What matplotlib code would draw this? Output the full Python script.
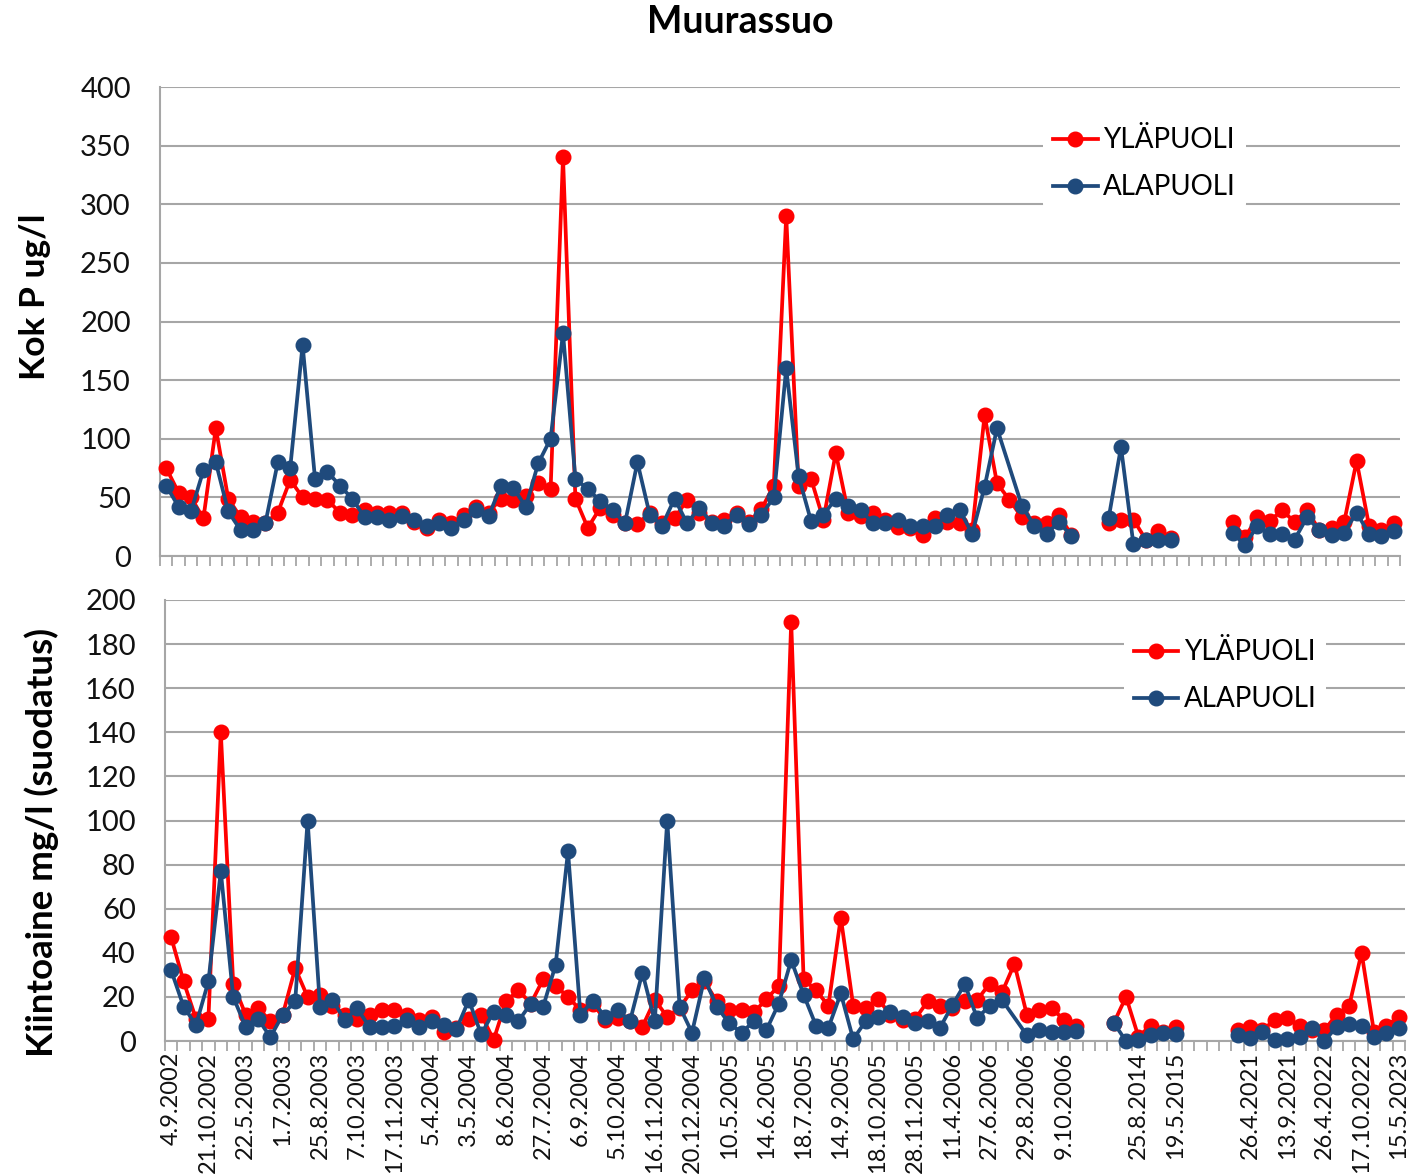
import numpy as np
import matplotlib
matplotlib.use("Agg")
import matplotlib.pyplot as plt
from matplotlib.ticker import FixedLocator, MultipleLocator

NA = "NA"  # not available: line connects across it
# None = empty row: line breaks (gap)

tick_labels = ["4.9.2002", "21.10.2002", "22.5.2003", "1.7.2003", "25.8.2003", "7.10.2003",
               "17.11.2003", "5.4.2004", "3.5.2004", "8.6.2004", "27.7.2004", "6.9.2004",
               "5.10.2004", "16.11.2004", "20.12.2004", "10.5.2005", "14.6.2005", "18.7.2005",
               "14.9.2005", "18.10.2005", "28.11.2005", "11.4.2006", "27.6.2006", "29.8.2006",
               "9.10.2006", "", "25.8.2014", "19.5.2015", "", "26.4.2021", "13.9.2021",
               "26.4.2022", "17.10.2022", "15.5.2023"]
n_categories = 100
label_step = 3

series_names = ["YLÄPUOLI", "ALAPUOLI"]

kokp_yla = [75, 54, 50, 32, 109, 49, 33, 29, 28, 37, 65, 50, 49, 48, 37, 35, 39, 37, 37, 37,
            29, 24, 31, 28, 35, 42, 37, 49, 48, 51, 62, 57, 340, 49, 24, 41, 35, 28, 27, 37,
            28, 32, 48, 37, 29, 31, 37, 29, 40, 60, 290, 60, 66, 31, 88, 37, 34, 37, 31, 25,
            24, 18, 32, 29, 28, 22, 120, 62, 48, 33, 28, 28, 35, 18, None, None, 28, 31, 31, 14,
            21, 15, None, None, None, None, 29, 16, 33, 30, 39, 29, 39, 22, 24, 29, 81, 26, 22, 28]
kokp_ala = [60, 42, 38, 73, 80, 38, 22, 22, 28, 80, 75, 180, 66, 72, 60, 49, 33, 33, 31, 34,
            31, 26, 28, 24, 31, 39, 34, 60, 58, 42, 79, 100, 190, 66, 57, 47, 39, 28, 80, 35,
            26, 49, 28, 41, 28, 26, 35, 27, 35, 50, 160, 68, 30, 35, 49, 43, 39, 28, 28, 31,
            26, 26, 26, 35, 39, 19, 59, 109, NA, 43, 26, 19, 29, 17, None, None, 32, 93, 10, 14,
            14, 14, None, None, None, None, 20, 9, 26, 19, 19, 14, 33, 22, 18, 20, 37, 19, 17, 21]

kiinto_yla = [47, 27, 10, 10, 140, 26, 12, 15, 9, 12, 33, 20, 21, 16, 12, 10, 12, 14, 14, 12,
              9.5, 11, 4, 6, 10, 12, 0.5, 18, 23, 17, 28, 25, 20, 14, 17, 9.5, 10.5, 9, 6.5, 18.6,
              11, 15, 23, 27, 18, 14, 14, 13, 19, 25, 190, 28, 23, 16, 56, 16, 15, 19, 12, 9.5,
              10, 18, 16, 15, 18, 18.6, 26, 22, 35, 12, 14, 15, 9.5, 7, None, None, 8, 20, 2, 7,
              4, 6.5, None, None, None, None, 5, 6.5, 5, 9.5, 10.5, 7, 5, 5, 12, 16, 40, 4, 7, 10.7]
kiinto_ala = [32, 15.6, 7.3, 27, 77, 20, 6.5, 10, 1.8, 12, 18, 100, 15.6, 18.6, 9.5, 14.8, 6.2, 6.5, 7, 9.5,
              6.5, 9, 7.3, 5.3, 18.6, 3, 13.3, 12, 9, 17, 15.6, 34.5, 86, 12, 18, 11, 14, 9, 31, 9,
              100, 15.6, 3.8, 28.4, 15.6, 8, 3.8, 9, 5, 17, 36.7, 21, 7, 6, 21.6, 0.8, 9, 10.7, 13.3, 11,
              8, 9, 6, 16.3, 25.8, 10.3, 16, 18.6, NA, 2.7, 5, 4.2, 4.2, 4.7, None, None, 8.3, 0, 0.5, 2.7,
              3.5, 3, None, None, None, None, 2.7, 1.2, 4.2, 0.5, 0.8, 2, 6, 0, 6.5, 7.8, 7, 2, 3.5, 6]

RED = "#FF0000"
BLUE = "#1F4A7C"
GRID = "#A6A6A6"
FONT = ["Lato", "DejaVu Sans"]

plt.rcParams["font.family"] = FONT


def xy(vals):
    x, y = [], []
    for i, v in enumerate(vals):
        if v == NA:
            continue
        x.append(i)
        y.append(np.nan if v is None else float(v))
    return np.array(x), np.array(y)


W, H = 1421, 1175
fig = plt.figure(figsize=(W / 100, H / 100), dpi=100)
ax1 = fig.add_axes([160 / W, 1 - 556 / H, 1240 / W, 469 / H])
ax2 = fig.add_axes([165 / W, 1 - 1041 / H, 1240 / W, 441 / H])

panels = [
    (ax1, kokp_yla, kokp_ala, 400, 50, "Kok P ug/l", 25.5, (35, 297), (0.794, 0.836), False),
    (ax2, kiinto_yla, kiinto_ala, 200, 20, "Kiintoaine mg/l (suodatus)", 26.5, (42, 842),
     (0.855, 0.828), True),
]

for ax, yla, ala, ymax, ystep, ylabel, ylsize, ylpos, legpos, show_x in panels:
    for vals, col, name, z in ((yla, RED, series_names[0], 3), (ala, BLUE, series_names[1], 4)):
        x, y = xy(vals)
        ax.plot(x, y, color=col, lw=2.7, marker="o", ms=10.5, mec=col, mfc=col,
                label=name, zorder=z, clip_on=False)
    ax.set_xlim(-0.5, n_categories - 0.5)
    ax.set_ylim(0, ymax)
    ax.yaxis.set_major_locator(MultipleLocator(ystep))
    ax.grid(axis="y", color=GRID, lw=1.5, zorder=0)
    ax.set_axisbelow(True)
    for s in ("top", "right"):
        ax.spines[s].set_visible(False)
    for s in ("left", "bottom"):
        ax.spines[s].set_color(GRID)
        ax.spines[s].set_linewidth(1.5)
    ax.tick_params(axis="y", length=0, labelsize=21, pad=21, labelcolor="#111111")
    # category boundary tick marks
    ax.xaxis.set_minor_locator(FixedLocator(np.arange(-0.5, n_categories, 1.0)))
    ax.tick_params(axis="x", which="minor", length=7, width=1.3, color=GRID, direction="out")
    ax.xaxis.set_major_locator(FixedLocator(np.arange(0, n_categories, label_step)))
    if show_x:
        ax.set_xticklabels(tick_labels, rotation=90, fontsize=17, color="#111111")
        ax.tick_params(axis="x", which="major", length=0, pad=8)
    else:
        ax.set_xticklabels([])
        ax.tick_params(axis="x", which="major", length=0)
    fig.text(ylpos[0] / W, 1 - ylpos[1] / H, ylabel, rotation=90, ha="center", va="center",
             fontsize=ylsize, fontweight="bold")
    leg = ax.legend(loc="center", bbox_to_anchor=legpos, frameon=True, fontsize=20,
                    handlelength=1.6, handletextpad=0.2, labelspacing=0.75,
                    borderpad=0.35, markerscale=1.0)
    leg.get_frame().set_facecolor("white")
    leg.get_frame().set_edgecolor("none")
    leg.get_frame().set_alpha(1)
    leg.set_zorder(10)

fig.text(740 / W, 1 - 22 / H, "Muurassuo", ha="center", va="center", fontsize=27,
         fontweight="bold")

fig.savefig("out.png", dpi=100)
